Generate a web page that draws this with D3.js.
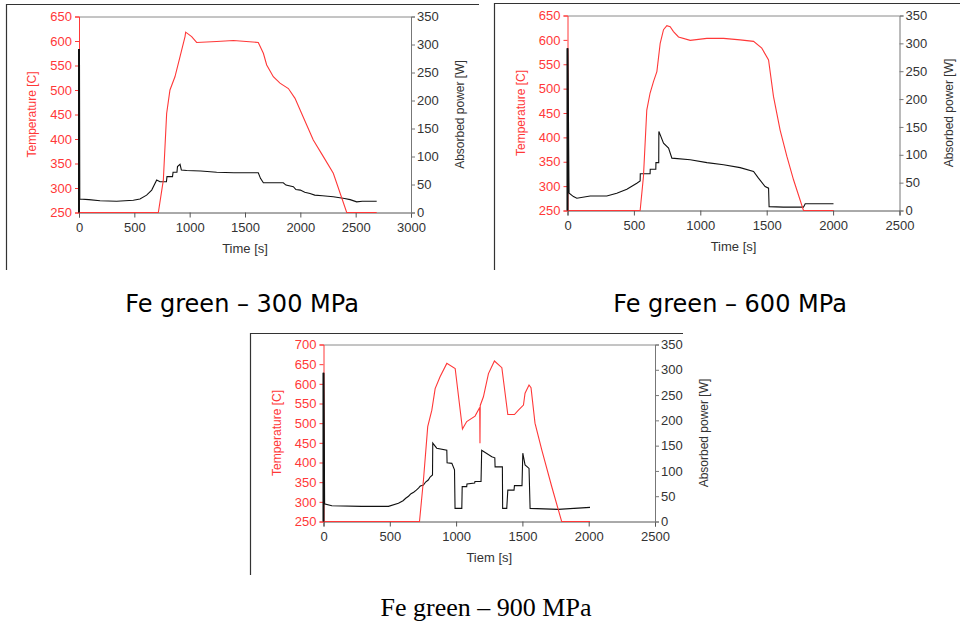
<!DOCTYPE html>
<html>
<head>
<meta charset="utf-8">
<script src="https://cdn.jsdelivr.net/npm/d3@7"></script>
<style>
  body { margin: 0; background: #fff; }
  svg { display: block; }
</style>
</head>
<body>
<svg id="chart" width="960" height="623"></svg>
<script>
// temperature [s, C] and absorbed power [s, W]
const temp300 = [[0,250],[717,250],[762,316],[792,452],[822,500],[867,527],[913,568],[958,609],[964,618],
  [1018,609],[1063,597],[1244,599],[1395,601],[1620,597],[1666,575],[1696,551],[1756,527],[1816,514],
  [1892,503],[1952,483],[2012,452],[2117,398],[2208,364],[2298,330],[2419,250],[2690,250]];
const power300 = [[0,0],[0,292],[3,24],[90,23],[190,21],[340,20],[491,22],[551,24],[611,31],[657,40],
  [702,58],[732,55],[790,55],[795,64],[845,64],[850,72],[885,72],[890,82],[913,86],[925,76],[973,75],
  [1100,74],[1244,72],[1400,71],[1620,71],[1640,61],[1666,53],[1846,53],[1870,49],[1937,46],[1960,41],
  [2000,40],[2040,36],[2087,34],[2130,31],[2200,30],[2298,28],[2400,25],[2450,23],[2509,19],[2560,20],[2690,20]];

const temp600 = [[0,250],[547,250],[572,320],[597,456],[622,491],[648,515],[673,535],[698,593],[723,621],
  [748,629],[773,627],[798,617],[836,606],[924,599],[1049,603],[1175,603],[1300,600],[1401,597],
  [1463,583],[1514,559],[1551,484],[1601,415],[1652,361],[1702,313],[1777,250],[2003,250]];
const power600 = [[0,0],[0,291],[8,32],[45,25],[70,22],[171,26],[296,26],[371,31],[447,38],[522,49],
  [547,53],[548,66],[622,66],[623,74],[665,74],[666,86],[687,86],[688,142],[723,121],[761,112],[786,94],
  [924,91],[1050,86],[1175,82],[1300,77],[1401,70],[1438,58],[1488,43],[1514,40],[1518,7],[1626,6],
  [1777,6],[1790,12],[2003,12]];

const temp900 = [[0,250],[724,250],[754,356],[786,491],[817,533],[842,588],[879,618],[930,652],[993,639],
  [1048,485],[1080,504],[1143,518],[1178,540],[1180,449],[1182,545],[1206,567],[1244,626],[1289,658],
  [1345,641],[1390,522],[1440,522],[1470,533],[1508,546],[1520,576],[1550,597],[1565,590],[1595,500],
  [1646,432],[1721,339],[1796,250],[2010,250]];
const power900 = [[0,0],[0,294],[5,35],[63,31],[289,30],[490,30],[565,36],[600,41],[620,46],[641,50],
  [660,55],[680,58],[700,62],[716,66],[730,70],[754,72],[770,78],[790,82],[804,88],[822,92],
  [824,155],[854,145],[930,141],[932,116],[968,115],[988,102],[992,26],[1043,26],
  [1046,69],[1080,69],[1082,74],[1140,76],[1142,79],[1188,79],[1193,141],[1269,128],[1292,126],[1294,108],
  [1349,108],[1351,26],[1382,26],[1390,62],[1437,62],[1440,71],[1497,71],[1503,135],[1520,112],
  [1550,105],[1558,26],[1771,24],[2010,28]];

const tempTicks650 = [250,300,350,400,450,500,550,600,650];
const tempTicks700 = [250,300,350,400,450,500,550,600,650,700];
const powerTicks = [0,50,100,150,200,250,300,350];
const timeTicks3000 = [0,500,1000,1500,2000,2500,3000];
const timeTicks2500 = [0,500,1000,1500,2000,2500];

const captions = ["Fe green \u2013 300 MPa", "Fe green \u2013 600 MPa", "Fe green \u2013 900 MPa"];

const RED = "#ff3838";
const svg = d3.select("#chart");

function panel(o) {
  const g = svg.append("g");
  // outer frame (left and top edges only)
  g.append("path")
    .attr("d", `M${o.fx},${o.fb}V${o.fy}H${o.fr}`)
    .attr("fill", "none").attr("stroke", "#333").attr("stroke-width", 1.2);

  const x = d3.scaleLinear().domain([0, o.tmax]).range([o.l, o.r]);
  const yT = d3.scaleLinear().domain([250, o.Tmax]).range([o.b, o.t]);
  const yP = d3.scaleLinear().domain([0, 350]).range([o.b, o.t]);

  const clipId = "clip" + o.id;
  g.append("clipPath").attr("id", clipId).append("rect")
    .attr("x", o.l - 2).attr("y", o.t - 1).attr("width", o.r - o.l + 2).attr("height", o.b - o.t + 2);

  // top border of plot
  g.append("line").attr("x1", o.l).attr("x2", o.r).attr("y1", o.t + 0.5).attr("y2", o.t + 0.5)
    .attr("stroke", "#8a8a8a");

  const font = "'Liberation Sans', Arial, sans-serif";

  const ax = g.append("g").attr("transform", `translate(0,${o.b})`)
    .call(d3.axisBottom(x).tickValues(o.xticks).tickSize(5).tickFormat(d3.format("d")));
  ax.select(".domain").attr("stroke", "#555");
  ax.selectAll(".tick line").attr("stroke", "#555");
  ax.selectAll("text").attr("fill", "#333").style("font", `13px ${font}`).attr("dy", "0.9em");

  const ar = g.append("g").attr("transform", `translate(${o.r},0)`)
    .call(d3.axisRight(yP).tickValues(powerTicks).tickSize(4).tickPadding(2));
  ar.select(".domain").attr("stroke", "#777");
  ar.selectAll(".tick line").attr("stroke", "#777");
  ar.selectAll("text").attr("fill", "#333").style("font", `13px ${font}`);

  const al = g.append("g").attr("transform", `translate(${o.l},0)`)
    .call(d3.axisLeft(yT).tickValues(o.yticks).tickSize(4).tickPadding(3));
  al.select(".domain").attr("stroke", RED);
  al.selectAll(".tick line").attr("stroke", RED);
  al.selectAll("text").attr("fill", RED).style("font", `13px ${font}`);

  const lineT = d3.line().x(d => x(d[0])).y(d => yT(d[1]));
  const lineP = d3.line().x(d => x(d[0])).y(d => yP(d[1]));

  const plot = g.append("g").attr("clip-path", `url(#${clipId})`);
  plot.append("path").datum(o.power).attr("d", lineP)
    .attr("fill", "none").attr("stroke", "#111").attr("stroke-width", 1.1);
  plot.append("path").datum(o.temp).attr("d", lineT)
    .attr("fill", "none").attr("stroke", RED).attr("stroke-width", 1.1);
  // the t=0 power spike sits on the axis line; draw it over the axis
  plot.append("path").datum(o.power.slice(0, 3)).attr("d", lineP)
    .attr("fill", "none").attr("stroke", "#111").attr("stroke-width", 2);

  const cy = (o.t + o.b) / 2;
  g.append("text").attr("transform", `translate(${o.l - 43},${cy}) rotate(-90)`)
    .attr("text-anchor", "middle").attr("fill", RED).style("font", `12px ${font}`)
    .text("Temperature [C]");
  g.append("text").attr("transform", `translate(${o.r + 53},${cy}) rotate(-90)`)
    .attr("text-anchor", "middle").attr("fill", "#333").style("font", `12px ${font}`)
    .text("Absorbed power [W]");
  g.append("text").attr("x", (o.l + o.r) / 2).attr("y", o.b + 40)
    .attr("text-anchor", "middle").attr("fill", "#333").style("font", `13px ${font}`)
    .text(o.xlabel);

  svg.append("text").attr("x", o.cx).attr("y", o.cyCap).attr("text-anchor", "middle")
    .attr("fill", "#000").style("font", o.capFont).text(o.caption);
}

panel({ id: 1, l: 79, r: 411, t: 16.5, b: 212.5, fx: 6.5, fy: 4.5, fb: 270, fr: 479,
  tmax: 3000, Tmax: 650, xticks: timeTicks3000, yticks: tempTicks650,
  temp: temp300, power: power300, xlabel: "Time [s]",
  caption: captions[0], cx: 242, cyCap: 312, capFont: "24px 'DejaVu Sans', sans-serif" });

panel({ id: 2, l: 567.5, r: 899.5, t: 15.5, b: 210.5, fx: 494.5, fy: 3.5, fb: 270, fr: 960,
  tmax: 2500, Tmax: 650, xticks: timeTicks2500, yticks: tempTicks650,
  temp: temp600, power: power600, xlabel: "Time [s]",
  caption: captions[1], cx: 730, cyCap: 312, capFont: "24px 'DejaVu Sans', sans-serif" });

panel({ id: 3, l: 323.5, r: 655, t: 344.5, b: 521.5, fx: 250.5, fy: 333.5, fb: 575, fr: 683,
  tmax: 2500, Tmax: 700, xticks: timeTicks2500, yticks: tempTicks700,
  temp: temp900, power: power900, xlabel: "Tiem [s]",
  caption: captions[2], cx: 486, cyCap: 616, capFont: "26px 'Liberation Serif', serif" });
</script>
</body>
</html>
